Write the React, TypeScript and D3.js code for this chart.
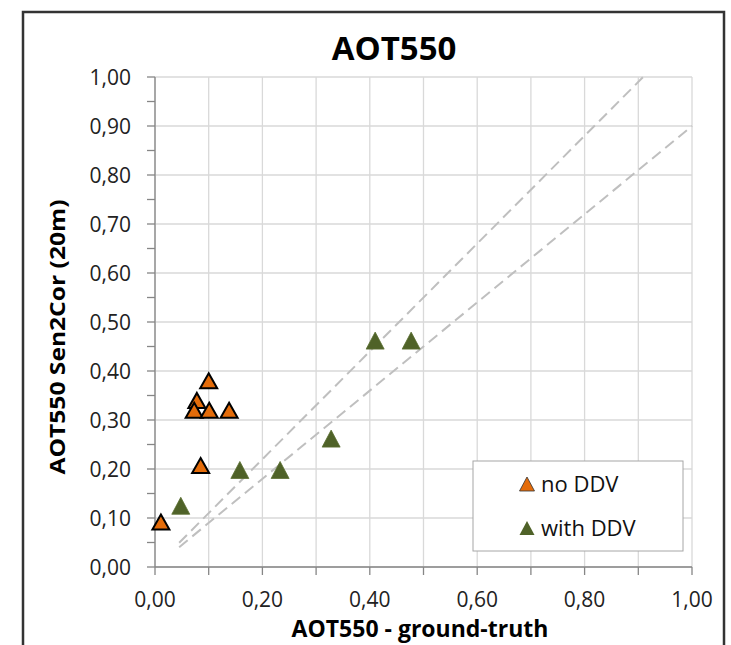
import React, { useEffect, useRef } from "react";
import * as d3 from "d3";

const noDdvX = [0.10, 0.078, 0.073, 0.101, 0.138, 0.085, 0.011];
const noDdvY = [0.38, 0.34, 0.32, 0.32, 0.32, 0.207, 0.092];
const withDdvX = [0.048, 0.158, 0.233, 0.328, 0.41, 0.477];
const withDdvY = [0.125, 0.198, 0.198, 0.262, 0.462, 0.462];
const tickValues = [0, 0.1, 0.2, 0.3, 0.4, 0.5, 0.6, 0.7, 0.8, 0.9, 1.0];
// reference lines y = 1.1x and y = 0.9x
const refLines = [
  { slope: 1.1, x0: 0.045, x1: 1 / 1.1 },
  { slope: 0.9, x0: 0.045, x1: 1.0 },
];

const W = 731;
const H = 645;
const FONT = "'Open Sans', 'Liberation Sans', sans-serif";
const ORANGE = "#e46c0a";
const GREEN = "#4f6228";

const fmt = (v: number) => v.toFixed(2).replace(".", ",");

const tri = (cx: number, cy: number, w: number, h: number) =>
  d3.line()([
    [cx, cy - h / 2],
    [cx + w / 2, cy + h / 2],
    [cx - w / 2, cy + h / 2],
  ]) + "Z";

export default function App() {
  const svgRef = useRef<SVGSVGElement>(null);

  useEffect(() => {
    const svg = d3.select(svgRef.current);
    svg.selectAll("*").remove();

    const x = d3.scaleLinear().domain([0, 1]).range([155, 692]);
    const y = d3.scaleLinear().domain([0, 1]).range([567, 77]);

    svg.append("rect").attr("width", W).attr("height", H).attr("fill", "#fff");

    // outer frame
    svg.append("rect")
      .attr("x", 23).attr("y", 12)
      .attr("width", 701).attr("height", 650)
      .attr("fill", "none").attr("stroke", "#333").attr("stroke-width", 2.5);

    // grid
    const grid = svg.append("g").attr("stroke", "#d9d9d9").attr("stroke-width", 1.3);
    tickValues.forEach((t) => {
      grid.append("line")
        .attr("x1", x(0)).attr("x2", x(1))
        .attr("y1", y(t)).attr("y2", y(t));
      grid.append("line")
        .attr("x1", x(t)).attr("x2", x(t))
        .attr("y1", y(0)).attr("y2", y(1));
    });

    // axes
    const axisColor = "#868686";
    svg.append("line")
      .attr("x1", x(0)).attr("x2", x(1)).attr("y1", y(0)).attr("y2", y(0))
      .attr("stroke", axisColor).attr("stroke-width", 1.3);
    svg.append("line")
      .attr("x1", x(0)).attr("x2", x(0)).attr("y1", y(0)).attr("y2", y(1))
      .attr("stroke", axisColor).attr("stroke-width", 1.3);

    // y ticks every 0.05, x ticks every 0.1
    d3.range(0, 1.0001, 0.05).forEach((t) => {
      svg.append("line")
        .attr("x1", x(0) - 8).attr("x2", x(0))
        .attr("y1", y(t)).attr("y2", y(t))
        .attr("stroke", axisColor).attr("stroke-width", 1.3);
    });
    tickValues.forEach((t) => {
      svg.append("line")
        .attr("x1", x(t)).attr("x2", x(t))
        .attr("y1", y(0)).attr("y2", y(0) + 8)
        .attr("stroke", axisColor).attr("stroke-width", 1.3);
    });

    // tick labels
    tickValues.forEach((t) => {
      svg.append("text")
        .attr("x", 131).attr("y", y(t) + 7.5)
        .attr("text-anchor", "end")
        .style("font-family", FONT).style("font-size", "21px").attr("fill", "#222")
        .text(fmt(t));
    });
    tickValues.filter((_, i) => i % 2 === 0).forEach((t) => {
      svg.append("text")
        .attr("x", x(t)).attr("y", 607)
        .attr("text-anchor", "middle")
        .style("font-family", FONT).style("font-size", "21px").attr("fill", "#222")
        .text(fmt(t));
    });

    // reference dashed lines
    refLines.forEach((l) => {
      svg.append("line")
        .attr("x1", x(l.x0)).attr("y1", y(l.x0 * l.slope))
        .attr("x2", x(l.x1)).attr("y2", y(l.x1 * l.slope))
        .attr("stroke", "#bfbfbf").attr("stroke-width", 2)
        .attr("stroke-dasharray", "11,6");
    });

    // points
    withDdvX.forEach((v, i) => {
      svg.append("path")
        .attr("d", tri(x(v), y(withDdvY[i]), 18, 17))
        .attr("fill", GREEN).attr("stroke", "#5a6e31").attr("stroke-width", 0.8);
    });
    noDdvX.forEach((v, i) => {
      svg.append("path")
        .attr("d", tri(x(v), y(noDdvY[i]), 17, 15))
        .attr("fill", ORANGE).attr("stroke", "#000").attr("stroke-width", 2)
        .attr("stroke-linejoin", "miter");
    });

    // legend
    svg.append("rect")
      .attr("x", 473).attr("y", 461).attr("width", 210).attr("height", 90)
      .attr("fill", "#fff").attr("stroke", "#a6a6a6").attr("stroke-width", 1);
    const legend = [
      { label: "no DDV", fill: ORANGE, stroke: "#333", sw: 0.8, cy: 484 },
      { label: "with DDV", fill: GREEN, stroke: "none", sw: 0, cy: 528 },
    ];
    legend.forEach((d) => {
      svg.append("path")
        .attr("d", tri(527, d.cy, 15, 14))
        .attr("fill", d.fill).attr("stroke", d.stroke).attr("stroke-width", d.sw);
      svg.append("text")
        .attr("x", 541).attr("y", d.cy + 8)
        .style("font-family", FONT).style("font-size", "22px").attr("fill", "#111")
        .text(d.label);
    });

    // titles
    svg.append("text")
      .attr("x", 394).attr("y", 60)
      .attr("text-anchor", "middle")
      .style("font-family", FONT).style("font-size", "33px").style("font-weight", "bold")
      .attr("fill", "#000")
      .text("AOT550");
    svg.append("text")
      .attr("x", 420).attr("y", 637)
      .attr("text-anchor", "middle")
      .style("font-family", FONT).style("font-size", "23px").style("font-weight", "bold")
      .attr("fill", "#000")
      .text("AOT550 - ground-truth");
    svg.append("text")
      .attr("transform", "translate(65, 337) rotate(-90)")
      .attr("text-anchor", "middle")
      .attr("textLength", 275).attr("lengthAdjust", "spacingAndGlyphs")
      .style("font-family", FONT).style("font-size", "22px").style("font-weight", "bold")
      .attr("fill", "#000")
      .text("AOT550 Sen2Cor (20m)");
  }, []);

  return (
    <div style={{ position: "absolute", left: 0, top: 0 }}>
      <svg ref={svgRef} width={W} height={H} style={{ display: "block" }} />
    </div>
  );
}
